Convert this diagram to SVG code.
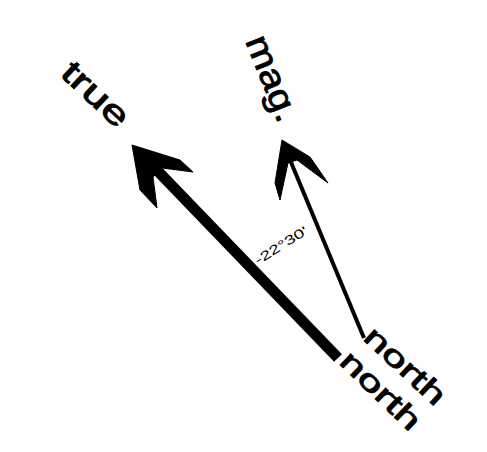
<svg xmlns="http://www.w3.org/2000/svg" width="487" height="452" viewBox="0 0 487 452">
<style>
.lbl{font-family:"Liberation Sans",Arial,sans-serif;fill:#000;stroke:#000;stroke-width:0.9}
.small{font-family:"Liberation Sans",Arial,sans-serif;fill:#000;font-size:13px}
.head{fill:#000;stroke:#000;stroke-width:1;stroke-linejoin:round}
</style>
<rect width="487" height="452" fill="#fff"/>
<g id="connectors">
  <line x1="150" y1="163" x2="338" y2="358" stroke="#000" stroke-width="11"/>
  <polygon class="head" points="132,145 180,160 193,172 162,168 153,177 157,208 140,190"/>
  <line x1="288" y1="155" x2="364" y2="338" stroke="#000" stroke-width="4"/>
  <polygon class="head" points="282,140 310,157 328,183 297,160 288,163 280,200 275,183"/>
</g>
<g id="true-north">
  <text class="lbl" x="0" y="0" font-size="33" textLength="80" lengthAdjust="spacingAndGlyphs" transform="translate(59,75) rotate(43)">true</text>
  <text class="lbl" x="0" y="0" font-size="29" textLength="100" lengthAdjust="spacingAndGlyphs" transform="translate(338,363) rotate(44)">north</text>
</g>
<g id="mag-north">
  <text class="lbl" x="0" y="0" font-size="35" textLength="90" lengthAdjust="spacingAndGlyphs" transform="translate(245,41) rotate(68)">mag.</text>
  <text class="lbl" x="0" y="0" font-size="29" textLength="100" lengthAdjust="spacingAndGlyphs" transform="translate(362,339) rotate(43)">north</text>
</g>
<g id="angle">
  <text class="small" x="0" y="0" textLength="60" lengthAdjust="spacingAndGlyphs" transform="translate(258,265) rotate(-32)">-22°30'</text>
</g>
</svg>
